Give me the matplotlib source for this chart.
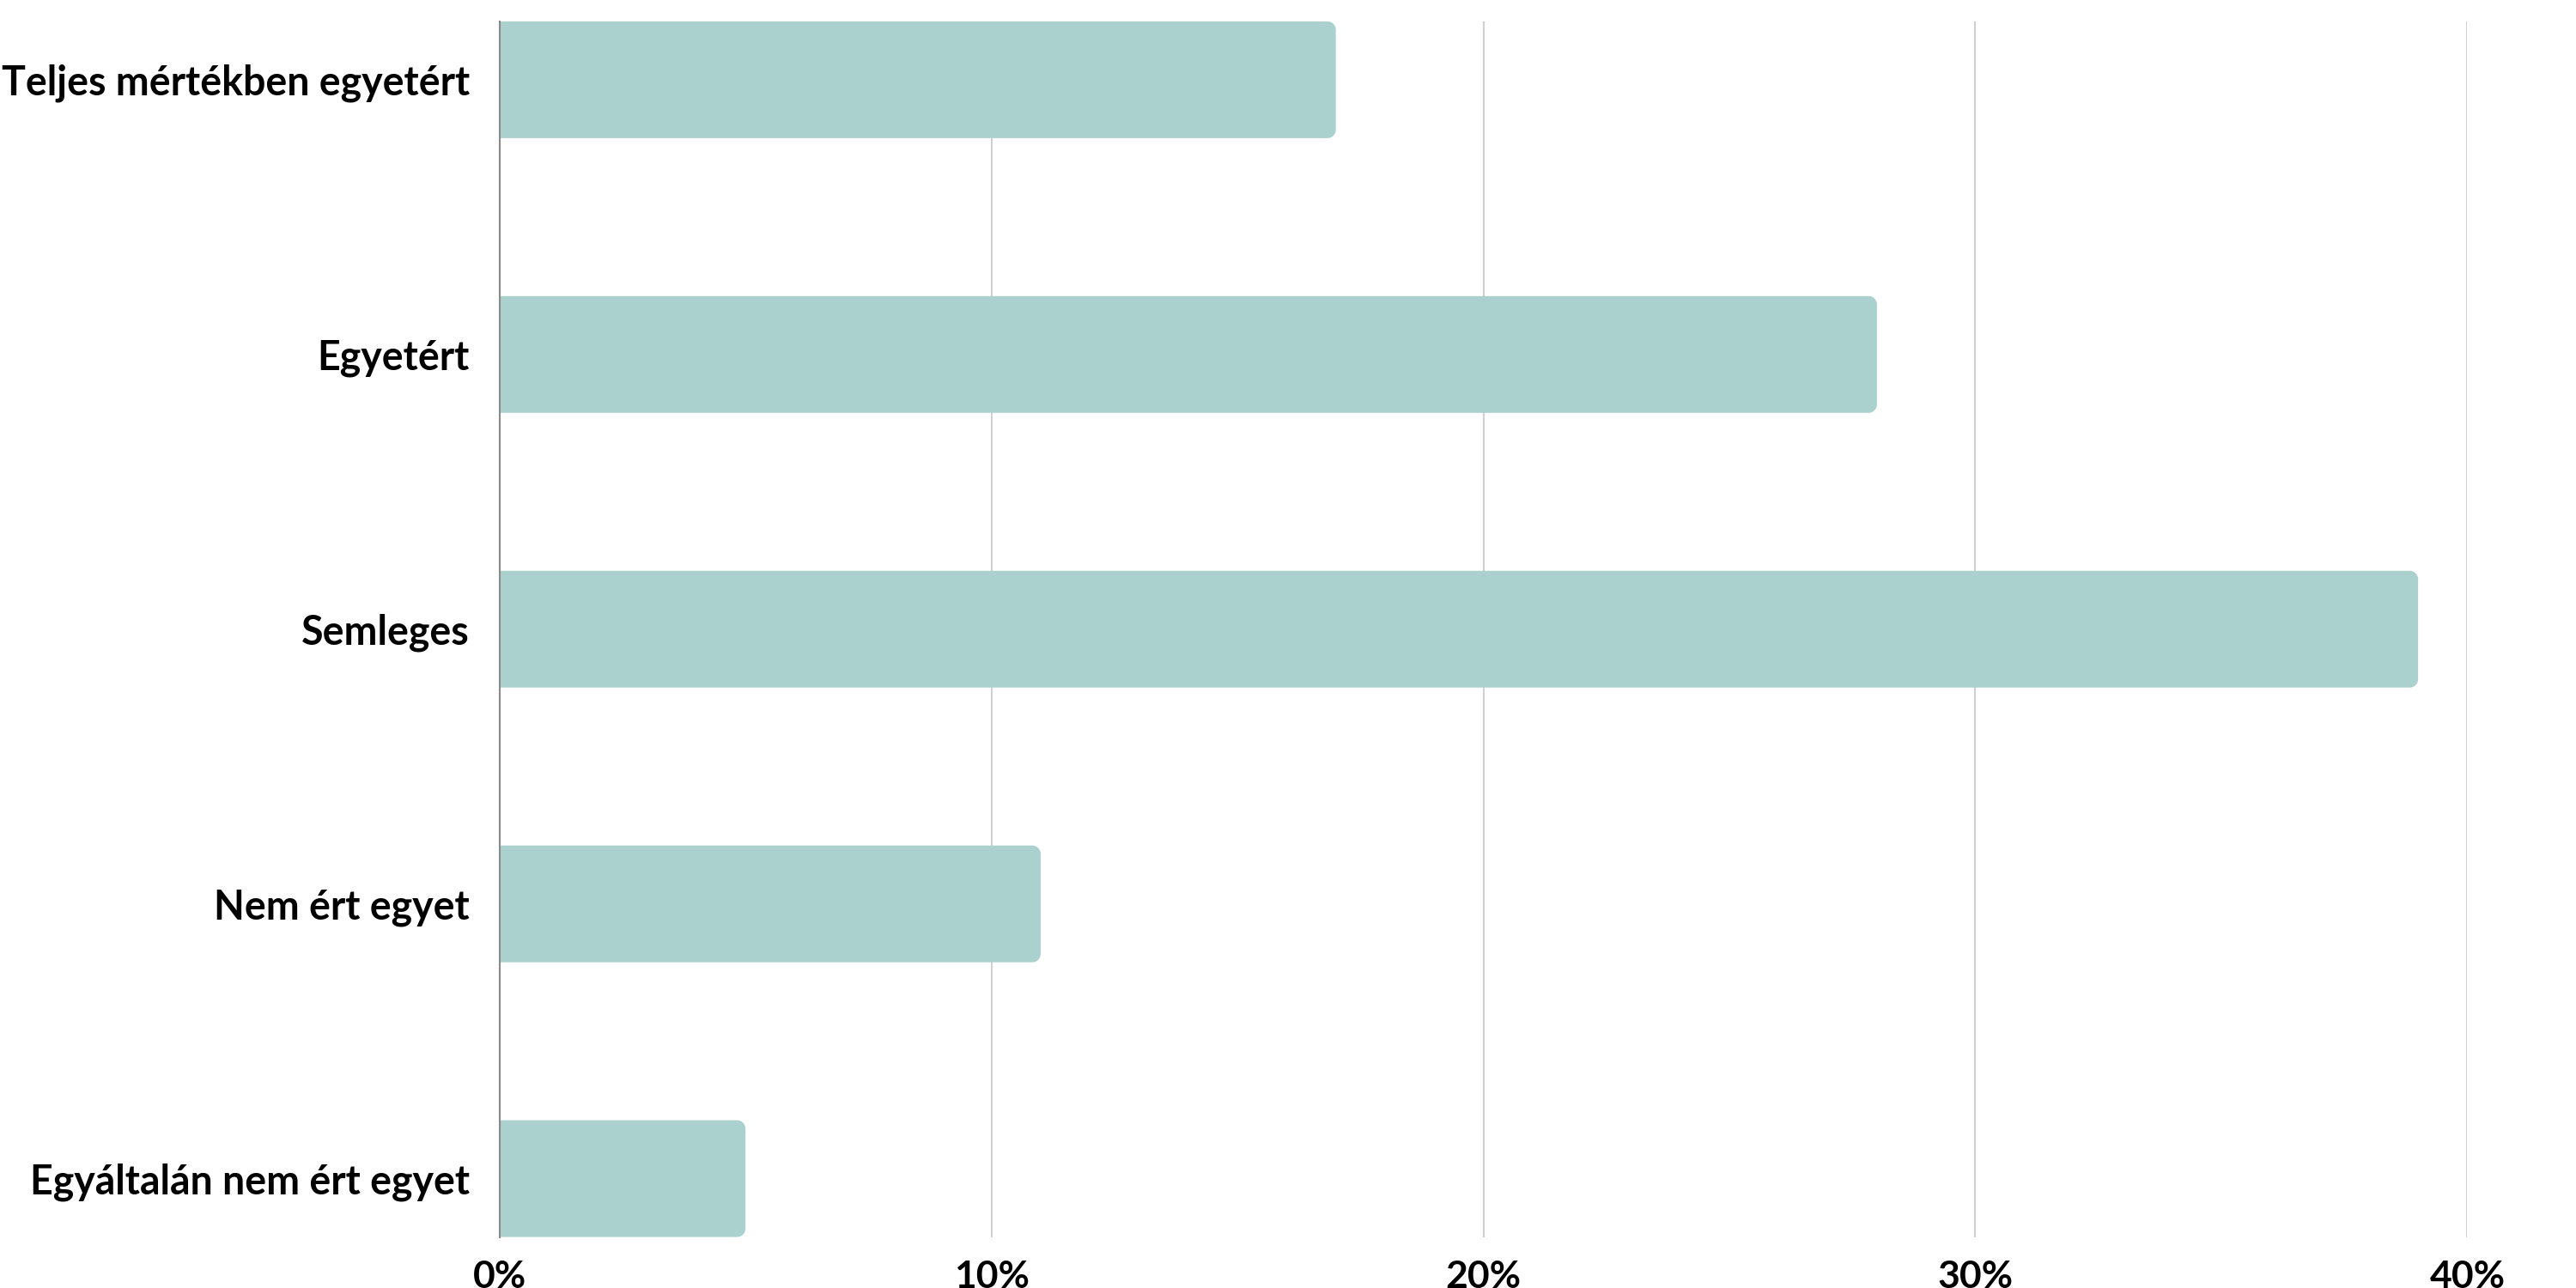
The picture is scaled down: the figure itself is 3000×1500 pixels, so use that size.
import matplotlib
matplotlib.use("Agg")
import matplotlib.pyplot as plt
from matplotlib.path import Path
from matplotlib.patches import PathPatch

categories = ["Teljes mértékben egyetért", "Egyetért", "Semleges", "Nem ért egyet", "Egyáltalán nem ért egyet"]
values = [17, 28, 39, 11, 5]
xticks = [0, 10, 20, 30, 40]
xtick_labels = ["0%", "10%", "20%", "30%", "40%"]

bar_color = "#ABD1CE"
plt.rcParams['font.family'] = ['Lato', 'DejaVu Sans']

fig = plt.figure(figsize=(30, 15), dpi=100)
ax = fig.add_axes([0.1939, 0.0396, 0.9578 - 0.1939, 0.9834 - 0.0396])

h = 0.425
ypos = list(range(len(categories)))
bars = ax.barh(ypos, values, height=h, color=bar_color, zorder=2)

ax.set_xlim(0, 40)
ax.set_ylim(len(categories) - 1 + h / 2, -h / 2)

# rounded right corners
rx = 0.17
ry = rx * (4.425 / 1415.7) / (40 / 2292.0)
k = 0.5523
for b in bars:
    x0, y0 = b.get_x(), b.get_y()
    w, hh = b.get_width(), b.get_height()
    x1, y1 = x0 + w, y0 + hh
    b.set_visible(False)
    verts = [
        (x0, y0),
        (x1 - rx, y0),
        (x1 - rx + k * rx, y0), (x1, y0 + ry - k * ry), (x1, y0 + ry),
        (x1, y1 - ry),
        (x1, y1 - ry + k * ry), (x1 - rx + k * rx, y1), (x1 - rx, y1),
        (x0, y1),
        (x0, y0),
    ]
    codes = [Path.MOVETO, Path.LINETO,
             Path.CURVE4, Path.CURVE4, Path.CURVE4,
             Path.LINETO,
             Path.CURVE4, Path.CURVE4, Path.CURVE4,
             Path.LINETO, Path.CLOSEPOLY]
    ax.add_patch(PathPatch(Path(verts, codes), facecolor=bar_color,
                           edgecolor="none", zorder=2))

ax.set_yticks(ypos)
ax.set_yticklabels(categories, fontsize=33.5, fontweight='bold', color='black')
ax.set_xticks(xticks)
ax.set_xticklabels(xtick_labels, fontsize=32, fontweight='bold', color='black')
ax.tick_params(axis='y', length=0, pad=25)
ax.tick_params(axis='x', length=0, pad=19)

ax.grid(axis='x', color='#d0d0d0', linewidth=1.5, zorder=0)
ax.set_axisbelow(True)
for s in ['top', 'right', 'bottom']:
    ax.spines[s].set_visible(False)
ax.spines['left'].set_color('#8a8a8a')
ax.spines['left'].set_linewidth(1.5)
ax.spines['left'].set_zorder(3)

fig.savefig("out.png", dpi=100, facecolor='white')
